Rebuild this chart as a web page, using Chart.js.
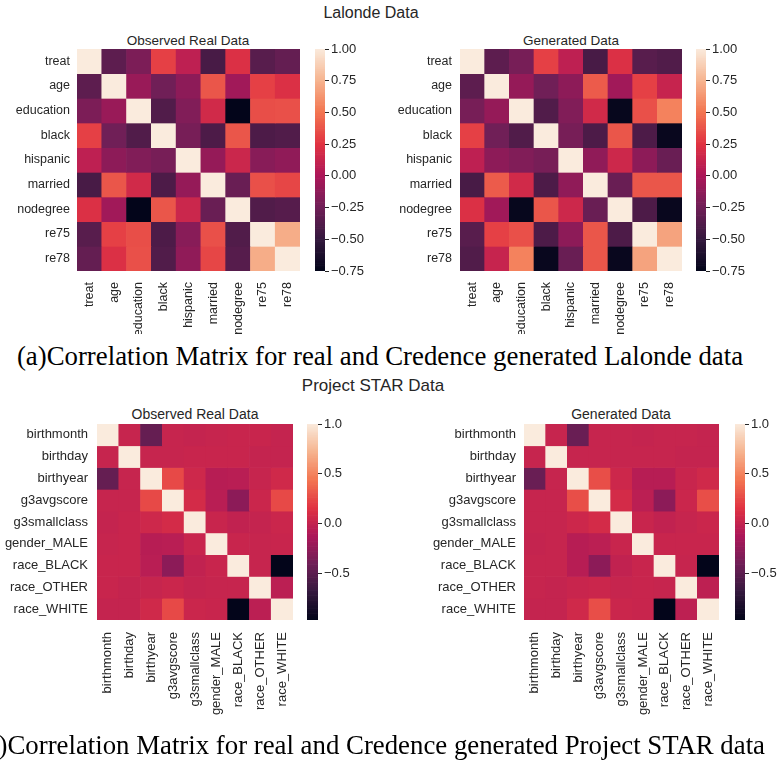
<!DOCTYPE html>
<html>
<head>
<meta charset="utf-8">
<script src="https://cdn.jsdelivr.net/npm/chart.js@4.4.0/dist/chart.umd.min.js"></script>
<style>
  body { margin: 0; background: #fff; }
  #fig { position: relative; width: 777px; height: 761px; overflow: hidden; background: #fff; }
  canvas { position: absolute; }
  .t { position: absolute; transform: translate(-50%, -50%); white-space: nowrap;
       font-family: "Liberation Sans", Arial, sans-serif; color: #262626; }
  .cap { position: absolute; white-space: nowrap; font-family: "Liberation Serif", "Times New Roman", serif;
         font-size: 26.8px; color: #000; }
</style>
</head>
<body>
<div id="fig">
  <div class="t" style="left:371px; top:13px; font-size:16px;">Lalonde Data</div>
  <div class="t" style="left:188px; top:40px; font-size:13.5px;">Observed Real Data</div>
  <div class="t" style="left:571px; top:40px; font-size:13.5px;">Generated Data</div>
  <canvas id="hmA" width="300" height="285" style="left:0px; top:49px;"></canvas>
  <canvas id="cbA" width="70" height="240" style="left:315px; top:40px;"></canvas>
  <canvas id="hmB" width="292" height="285" style="left:390px; top:49px;"></canvas>
  <canvas id="cbB" width="81" height="240" style="left:696px; top:40px;"></canvas>
  <div class="cap" style="left:380px; top:356px; transform: translate(-50%, -50%);">(a)Correlation Matrix for real and Credence generated Lalonde data</div>
  <div class="t" style="left:373px; top:386px; font-size:17px;">Project STAR Data</div>
  <div class="t" style="left:195px; top:414px; font-size:14px;">Observed Real Data</div>
  <div class="t" style="left:621px; top:414px; font-size:14px;">Generated Data</div>
  <canvas id="hmC" width="293" height="306" style="left:0px; top:424px;"></canvas>
  <canvas id="cbC" width="70" height="217" style="left:307px; top:414px;"></canvas>
  <canvas id="hmD" width="299" height="306" style="left:420px; top:424px;"></canvas>
  <canvas id="cbD" width="42" height="217" style="left:735px; top:414px;"></canvas>
  <div class="cap" style="right:12px; top:745px; transform: translateY(-50%);">(b)Correlation Matrix for real and Credence generated Project STAR data</div>
</div>
<script>
// noms des variables
const lalondeVars = ['treat', 'age', 'education', 'black', 'hispanic', 'married', 'nodegree', 're75', 're78'];
const starVars = ['birthmonth', 'birthday', 'birthyear', 'g3avgscore', 'g3smallclass', 'gender_MALE', 'race_BLACK', 'race_OTHER', 'race_WHITE'];

// matrices de corrélation
const lalondeReal = [
  [1.00, -0.33, -0.20, 0.30, 0.08, -0.42, 0.22, -0.35, -0.30],
  [-0.33, 1.00, -0.08, -0.25, -0.13, 0.38, -0.05, 0.30, 0.22],
  [-0.20, -0.08, 1.00, -0.38, -0.18, 0.17, -0.75, 0.35, 0.36],
  [0.30, -0.25, -0.38, 1.00, -0.22, -0.40, 0.38, -0.40, -0.38],
  [0.08, -0.13, -0.18, -0.22, 1.00, -0.10, 0.14, -0.15, -0.12],
  [-0.42, 0.38, 0.17, -0.40, -0.10, 1.00, -0.28, 0.36, 0.32],
  [0.22, -0.05, -0.75, 0.38, 0.14, -0.28, 1.00, -0.38, -0.36],
  [-0.35, 0.30, 0.35, -0.40, -0.15, 0.36, -0.38, 1.00, 0.72],
  [-0.30, 0.22, 0.36, -0.38, -0.12, 0.32, -0.36, 0.72, 1.00]
];
const lalondeGen = [
  [1.00, -0.33, -0.22, 0.30, 0.08, -0.42, 0.22, -0.35, -0.38],
  [-0.33, 1.00, -0.10, -0.25, -0.13, 0.40, -0.05, 0.30, 0.12],
  [-0.22, -0.10, 1.00, -0.38, -0.18, 0.17, -0.73, 0.36, 0.55],
  [0.30, -0.25, -0.38, 1.00, -0.22, -0.40, 0.38, -0.40, -0.72],
  [0.08, -0.13, -0.18, -0.22, 1.00, -0.12, 0.15, -0.13, -0.28],
  [-0.42, 0.40, 0.17, -0.40, -0.12, 1.00, -0.28, 0.38, 0.38],
  [0.22, -0.05, -0.73, 0.38, 0.15, -0.28, 1.00, -0.40, -0.72],
  [-0.35, 0.30, 0.36, -0.40, -0.13, 0.38, -0.40, 1.00, 0.68],
  [-0.38, 0.12, 0.55, -0.72, -0.28, 0.38, -0.72, 0.68, 1.00]
];
const starReal = [
  [1.00, 0.01, -0.46, 0.01, 0.00, 0.01, 0.02, 0.02, 0.00],
  [0.01, 1.00, 0.01, 0.01, 0.02, 0.02, 0.02, 0.00, 0.00],
  [-0.46, 0.01, 1.00, 0.25, 0.05, -0.07, -0.06, 0.01, 0.06],
  [0.01, 0.01, 0.25, 1.00, 0.08, -0.06, -0.28, 0.03, 0.25],
  [0.00, 0.02, 0.05, 0.08, 1.00, 0.02, -0.02, 0.00, 0.03],
  [0.01, 0.02, -0.07, -0.06, 0.02, 1.00, 0.02, 0.01, 0.02],
  [0.02, 0.02, -0.06, -0.28, -0.02, 0.02, 1.00, 0.01, -0.97],
  [0.02, 0.00, 0.01, 0.03, 0.00, 0.01, 0.01, 1.00, -0.05],
  [0.00, 0.00, 0.06, 0.25, 0.03, 0.02, -0.97, -0.05, 1.00]
];
const starGen = [
  [1.00, 0.01, -0.44, 0.01, 0.01, 0.00, 0.01, 0.01, 0.00],
  [0.01, 1.00, 0.01, 0.01, 0.01, 0.01, 0.01, 0.00, 0.00],
  [-0.44, 0.01, 1.00, 0.27, 0.04, -0.07, -0.07, 0.02, 0.06],
  [0.01, 0.01, 0.27, 1.00, 0.08, -0.05, -0.28, 0.03, 0.27],
  [0.01, 0.01, 0.04, 0.08, 1.00, 0.02, -0.02, 0.01, 0.03],
  [0.00, 0.01, -0.07, -0.05, 0.02, 1.00, 0.02, 0.02, 0.02],
  [0.01, 0.01, -0.07, -0.28, -0.02, 0.02, 1.00, 0.01, -0.97],
  [0.01, 0.00, 0.02, 0.03, 0.01, 0.02, 0.01, 1.00, -0.04],
  [0.00, 0.00, 0.06, 0.27, 0.03, 0.02, -0.97, -0.04, 1.00]
];

// échelles de couleur
const lalondeTicks = [1.00, 0.75, 0.50, 0.25, 0.00, -0.25, -0.50, -0.75];
const starTicks = [1.0, 0.5, 0.0, -0.5];
const lalondeRange = [-0.75, 1.00];
const starRange = [-0.97, 1.00];

// palette "rocket" de seaborn
const rocketStops = ['#03051A', '#35193E', '#701F57', '#AD1759', '#E13342', '#F37651', '#F6B48F', '#FAEBDD'];
const TXT = '#262626';

function hex2rgb(h) {
  return [parseInt(h.slice(1, 3), 16), parseInt(h.slice(3, 5), 16), parseInt(h.slice(5, 7), 16)];
}

function rocket(t) {
  t = Math.max(0, Math.min(1, t));
  const n = rocketStops.length - 1;
  const i = Math.min(Math.floor(t * n), n - 1);
  const f = t * n - i;
  const a = hex2rgb(rocketStops[i]), b = hex2rgb(rocketStops[i + 1]);
  const c = a.map((v, k) => Math.round(v + (b[k] - v) * f));
  return `rgb(${c[0]},${c[1]},${c[2]})`;
}

function fmt(v, dec) {
  const s = Math.abs(v).toFixed(dec);
  return v < 0 ? '\u2212' + s : s;
}

const baseOpts = {
  responsive: false,
  animation: false,
  events: [],
  plugins: { legend: { display: false }, tooltip: { enabled: false } }
};

// Carte de chaleur : barres flottantes, une série par ligne
function heatmap(id, names, matrix, range, o) {
  const [vmin, vmax] = range;
  const font = { family: 'Liberation Sans', size: o.fs };
  const datasets = matrix.map((row, r) => ({
    data: row.map(() => [r - 0.5, r + 0.5]),
    backgroundColor: row.map(v => rocket((v - vmin) / (vmax - vmin))),
    borderWidth: 0,
    grouped: false,
    barPercentage: 1,
    categoryPercentage: 1
  }));
  new Chart(document.getElementById(id), {
    type: 'bar',
    data: { labels: names, datasets: datasets },
    options: {
      ...baseOpts,
      layout: { padding: 0 },
      scales: {
        x: {
          grid: { display: false, drawTicks: false },
          border: { display: false },
          ticks: { font: font, color: TXT, minRotation: 90, maxRotation: 90, autoSkip: false, padding: o.xPad },
          afterFit: s => { s.height = o.xh; s.paddingLeft = 0; s.paddingRight = 0; }
        },
        y: {
          type: 'linear',
          reverse: true,
          min: -0.5,
          max: names.length - 0.5,
          grid: { display: false, drawTicks: false },
          border: { display: false },
          afterBuildTicks: s => { s.ticks = names.map((_, i) => ({ value: i })); },
          ticks: { font: font, color: TXT, autoSkip: false, padding: o.yPad, callback: v => names[v] },
          afterFit: s => { s.width = o.yw; s.paddingTop = 0; s.paddingBottom = 0; }
        }
      }
    }
  });
}

// Barre de couleur
function colorbar(id, range, ticks, dec, o) {
  const [vmin, vmax] = range;
  const steps = 120;
  const datasets = [];
  for (let k = 0; k < steps; k++) {
    const lo = vmin + (vmax - vmin) * k / steps;
    const hi = vmin + (vmax - vmin) * (k + 1) / steps;
    datasets.push({
      data: [[lo, hi]],
      backgroundColor: rocket((k + 0.5) / steps),
      borderWidth: 0,
      grouped: false,
      barPercentage: 1,
      categoryPercentage: 1
    });
  }
  new Chart(document.getElementById(id), {
    type: 'bar',
    data: { labels: [''], datasets: datasets },
    options: {
      ...baseOpts,
      layout: { padding: { top: o.pt, bottom: o.pb, left: 0, right: 0 } },
      scales: {
        x: { display: false },
        y: {
          position: 'right',
          min: vmin,
          max: vmax,
          grid: { display: true, drawOnChartArea: false, drawTicks: true, tickLength: 4, color: TXT, lineWidth: 1 },
          border: { display: false },
          afterBuildTicks: s => { s.ticks = ticks.map(v => ({ value: v })); },
          ticks: { font: { family: 'Liberation Sans', size: o.fs }, color: TXT, padding: 2, autoSkip: false,
                   callback: v => fmt(v, dec) },
          afterFit: s => { s.width = o.w; s.paddingTop = 0; s.paddingBottom = 0; }
        }
      }
    }
  });
}

heatmap('hmA', lalondeVars, lalondeReal, lalondeRange, { fs: 12.5, yw: 77, xh: 63, yPad: 7, xPad: 11 });
heatmap('hmB', lalondeVars, lalondeGen, lalondeRange, { fs: 12.5, yw: 70, xh: 63, yPad: 8, xPad: 11 });
colorbar('cbA', lalondeRange, lalondeTicks, 2, { fs: 13, w: 60, pt: 9, pb: 9 });
colorbar('cbB', lalondeRange, lalondeTicks, 2, { fs: 13, w: 71, pt: 9, pb: 9 });

heatmap('hmC', starVars, starReal, starRange, { fs: 13, yw: 97, xh: 110, yPad: 9, xPad: 12 });
heatmap('hmD', starVars, starGen, starRange, { fs: 13, yw: 104, xh: 110, yPad: 8, xPad: 12 });
colorbar('cbC', starRange, starTicks, 1, { fs: 13, w: 59, pt: 10, pb: 11 });
colorbar('cbD', starRange, starTicks, 1, { fs: 13, w: 32, pt: 10, pb: 11 });
</script>
</body>
</html>
